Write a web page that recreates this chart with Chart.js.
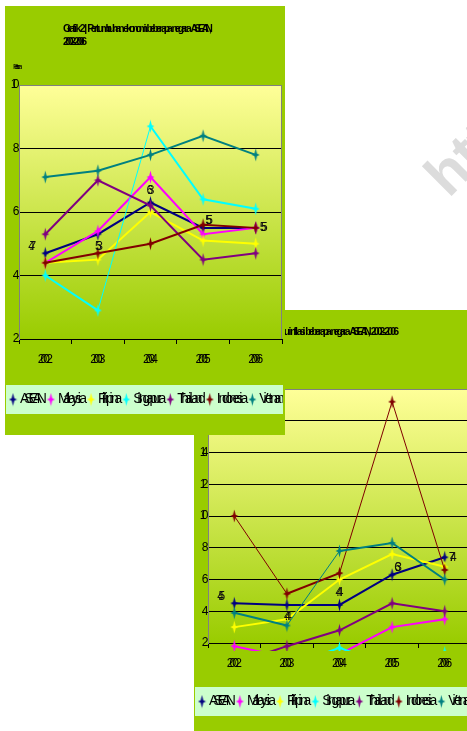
<!DOCTYPE html>
<html>
<head>
<meta charset="utf-8">
<script src="https://cdn.jsdelivr.net/npm/chart.js@4.4.1/dist/chart.umd.min.js"></script>
<style>
  html, body { margin: 0; padding: 0; background: #fff; overflow: hidden; width: 467px; height: 731px; }
  .box { position: absolute; width: 280px; height: 429px; background: #99cc00; }
  #box1 { left: 5px; top: 6px; z-index: 2; }
  #box2 { left: 194px; top: 310px; z-index: 1; }
  .mark { position: absolute; left: 414px; top: 164px; z-index: 0; font: bold 58px 'Liberation Sans', Arial, sans-serif;
          line-height: 58px; color: #dcdcdc; white-space: nowrap; transform: rotate(-45deg); transform-origin: 0 0; }
</style>
</head>
<body>
<div class="mark">http://</div>
<div class="box" id="box2"><canvas id="chart2"></canvas></div>
<div class="box" id="box1"><canvas id="chart1"></canvas></div>
<script>
const years = ['2002', '2003', '2004', '2005', '2006'];
const countries = ['ASEAN', 'Malaysia', 'Filipina', 'Singapura', 'Thailand', 'Indonesia', 'Vietnam'];
const colors = ['#000080', '#ff00ff', '#ffff00', '#00ffff', '#800080', '#800000', '#008080'];

// Grafik 2: pertumbuhan ekonomi (persen)
const growthAsean = [4.7, 5.3, 6.3, 5.5, 5.5];
const growthMalaysia = [4.4, 5.4, 7.1, 5.3, 5.5];
const growthFilipina = [4.4, 4.5, 6.0, 5.1, 5.0];
const growthSingapura = [4.0, 2.9, 8.7, 6.4, 6.1];
const growthThailand = [5.3, 7.0, 6.2, 4.5, 4.7];
const growthIndonesia = [4.4, 4.7, 5.0, 5.6, 5.5];
const growthVietnam = [7.1, 7.3, 7.8, 8.4, 7.8];
const growthTicks = [2, 4, 6, 8, 10];

// Grafik 3: laju inflasi (persen)
const inflAsean = [4.5, 4.4, 4.4, 6.3, 7.4];
const inflMalaysia = [1.8, 1.1, 1.3, 3.0, 3.5];
const inflFilipina = [3.0, 3.5, 6.0, 7.6, 6.8];
const inflSingapura = [-0.4, 0.5, 1.7, 0.5, 1.4];
const inflThailand = [0.7, 1.8, 2.8, 4.5, 4.0];
const inflIndonesia = [10.0, 5.1, 6.4, 17.2, 6.6];
const inflVietnam = [3.9, 3.1, 7.8, 8.3, 6.0];
const inflTicks = [2, 4, 6, 8, 10, 12, 14, 16, 18];

const FONT = "'Liberation Sans', Arial, sans-serif";

// little 4-point star used as marker
function starMarker(color) {
    const c = document.createElement('canvas');
    c.width = 9; c.height = 14;
    const g = c.getContext('2d');
    const cx = 4.5, cy = 7, i = 1.3;
    g.fillStyle = color;
    g.beginPath();
    g.moveTo(cx, cy - 6.5);
    g.lineTo(cx + i, cy - i);
    g.lineTo(cx + 4, cy);
    g.lineTo(cx + i, cy + i);
    g.lineTo(cx, cy + 6.5);
    g.lineTo(cx - i, cy + i);
    g.lineTo(cx - 4, cy);
    g.lineTo(cx - i, cy - i);
    g.closePath();
    g.fill();
    return c;
}
const markers = colors.map(starMarker);

// text with overlapping glyphs (the squeezed look of the original)
function squeezed(ctx, text, x, y, o) {
    ctx.save();
    ctx.font = o.font;
    ctx.fillStyle = o.color || '#000';
    ctx.textBaseline = 'middle';
    ctx.textAlign = 'left';
    const chars = Array.from(text);
    const adv = chars.map(c => ctx.measureText(c).width);
    const lastW = adv[adv.length - 1];
    const sum = adv.slice(0, -1).reduce((a, b) => a + b, 0);
    let k = o.k;
    if (o.width != null) k = sum > 0 ? Math.max(0.05, (o.width - lastW) / sum) : 1;
    const total = sum * k + lastW;
    let cx = o.align === 'center' ? x - total / 2 : o.align === 'right' ? x - total : x;
    chars.forEach((c, i) => { ctx.fillText(c, cx, y); cx += adv[i] * k; });
    ctx.restore();
    return total;
}

const decor = {
    id: 'decor',
    beforeDraw(chart) {
        const a = chart.chartArea, ctx = chart.ctx;
        const grad = ctx.createLinearGradient(0, a.top, 0, a.bottom);
        grad.addColorStop(0, '#ffff99');
        grad.addColorStop(1, '#99cc00');
        ctx.save();
        ctx.fillStyle = grad;
        ctx.fillRect(a.left, a.top, a.right - a.left, a.bottom - a.top);
        ctx.restore();
    },
    afterDraw(chart, args, o) {
        const a = chart.chartArea, ctx = chart.ctx;
        const xs = chart.scales.x, ys = chart.scales.y;

        // right and top border of the plot
        ctx.save();
        ctx.strokeStyle = '#808080';
        ctx.lineWidth = 1;
        ctx.beginPath();
        ctx.moveTo(a.left, a.top + 0.5);
        ctx.lineTo(a.right - 0.5, a.top + 0.5);
        ctx.lineTo(a.right - 0.5, a.bottom);
        ctx.stroke();
        ctx.restore();

        // tick labels
        ys.ticks.forEach(t => {
            squeezed(ctx, String(t.value), a.left + 0.5, ys.getPixelForValue(t.value),
                { font: '12px ' + FONT, k: 0.3, align: 'right' });
        });
        xs.ticks.forEach((t, i) => {
            squeezed(ctx, chart.data.labels[t.value], xs.getPixelForTick(i), a.bottom + 21,
                { font: '12px ' + FONT, k: 0.42, align: 'center' });
        });

        // data labels of the first series
        const meta = chart.getDatasetMeta(0);
        const vals = chart.data.datasets[0].data;
        meta.data.forEach((pt, i) => {
            const off = o.labelOffsets[i];
            squeezed(ctx, vals[i].toFixed(1), pt.x + off[0], pt.y + off[1],
                { font: '12px ' + FONT, k: 0.12, align: 'center', color: '#111' });
        });

        // titles
        o.title.forEach(t => {
            squeezed(ctx, t.text, t.x, t.y, { font: 'bold 10.5px ' + FONT, width: t.w });
        });
        squeezed(ctx, 'Persen', 8, 61, { font: '8px ' + FONT, width: 9.5 });

        // legend
        const top = o.legendTop, h = 29, cy = top + h / 2;
        ctx.save();
        ctx.fillStyle = '#ccffcc';
        ctx.fillRect(1, top, 277, h);
        ctx.beginPath();
        ctx.rect(1, top, 277, h);
        ctx.clip();
        let x = 8;
        chart.data.datasets.forEach((ds, i) => {
            const m = markers[i];
            ctx.drawImage(m, x - m.width / 2, cy - m.height / 2);
            const w = squeezed(ctx, ds.label, x + 7, cy, { font: '14px ' + FONT, k: 0.45 });
            x += 7 + w + 4;
        });
        ctx.restore();
    }
};

function makeDatasets(series, thin) {
    return series.map((data, i) => ({
        label: countries[i],
        data: data,
        borderColor: colors[i],
        backgroundColor: colors[i],
        borderWidth: 2,
        pointStyle: markers[i],
        pointRadius: 6,
        pointHoverRadius: 10,
        pointBorderWidth: 1,
        order: countries.length - i,
        clip: { left: 0, top: 0, right: 0, bottom: 8 },
        segment: {
            borderWidth: ctx => (thin[i] || []).includes(ctx.p0DataIndex) ? 1 : 2
        }
    }));
}

function makeConfig(series, thin, ticks, opts) {
    return {
        type: 'line',
        data: { labels: years, datasets: makeDatasets(series, thin) },
        options: {
            responsive: true,
            maintainAspectRatio: false,
            animation: false,
            layout: { autoPadding: false, padding: { left: 14, top: 79, right: 3, bottom: 96 } },
            plugins: {
                legend: { display: false },
                title: { display: false },
                tooltip: { enabled: false },
                decor: opts
            },
            scales: {
                x: {
                    offset: true,
                    grid: { offset: true, drawOnChartArea: false, drawTicks: true, tickLength: 5, color: '#000' },
                    border: { color: '#000', width: 1 },
                    ticks: { display: false },
                    afterFit: s => { s.height = 0; }
                },
                y: {
                    min: ticks[0],
                    max: ticks[ticks.length - 1],
                    afterBuildTicks: s => { s.ticks = ticks.map(v => ({ value: v })); },
                    grid: {
                        drawTicks: false,
                        tickLength: 0,
                        color: c => c.tick && c.tick.value === ticks[ticks.length - 1] ? '#808080' : '#000'
                    },
                    border: { color: '#808080', width: 1 },
                    ticks: { display: false },
                    afterFit: s => { s.width = 0; }
                }
            }
        },
        plugins: [decor]
    };
}

const labelOffsets = [[-13, -7], [1, 12], [0, -12], [6, -7], [8, 0]];

new Chart(document.getElementById('chart2'), makeConfig(
    [inflAsean, inflMalaysia, inflFilipina, inflSingapura, inflThailand, inflIndonesia, inflVietnam],
    { 5: [0, 2, 3], 6: [1] },
    inflTicks,
    {
        title: [{ text: 'Grafik 3 | Laju inflasi beberapa negara ASEAN, 2002-2006', x: 58, y: 22.5, w: 147 }],
        legendTop: 377,
        labelOffsets: labelOffsets
    }
));

new Chart(document.getElementById('chart1'), makeConfig(
    [growthAsean, growthMalaysia, growthFilipina, growthSingapura, growthThailand, growthIndonesia, growthVietnam],
    { 3: [1] },
    growthTicks,
    {
        title: [
            { text: 'Grafik 2 | Pertumbuhan ekonomi beberapa negara ASEAN,', x: 58, y: 23, w: 149 },
            { text: '2002-2006', x: 58, y: 36.5, w: 24 }
        ],
        legendTop: 379,
        labelOffsets: labelOffsets
    }
));
</script>
</body>
</html>
